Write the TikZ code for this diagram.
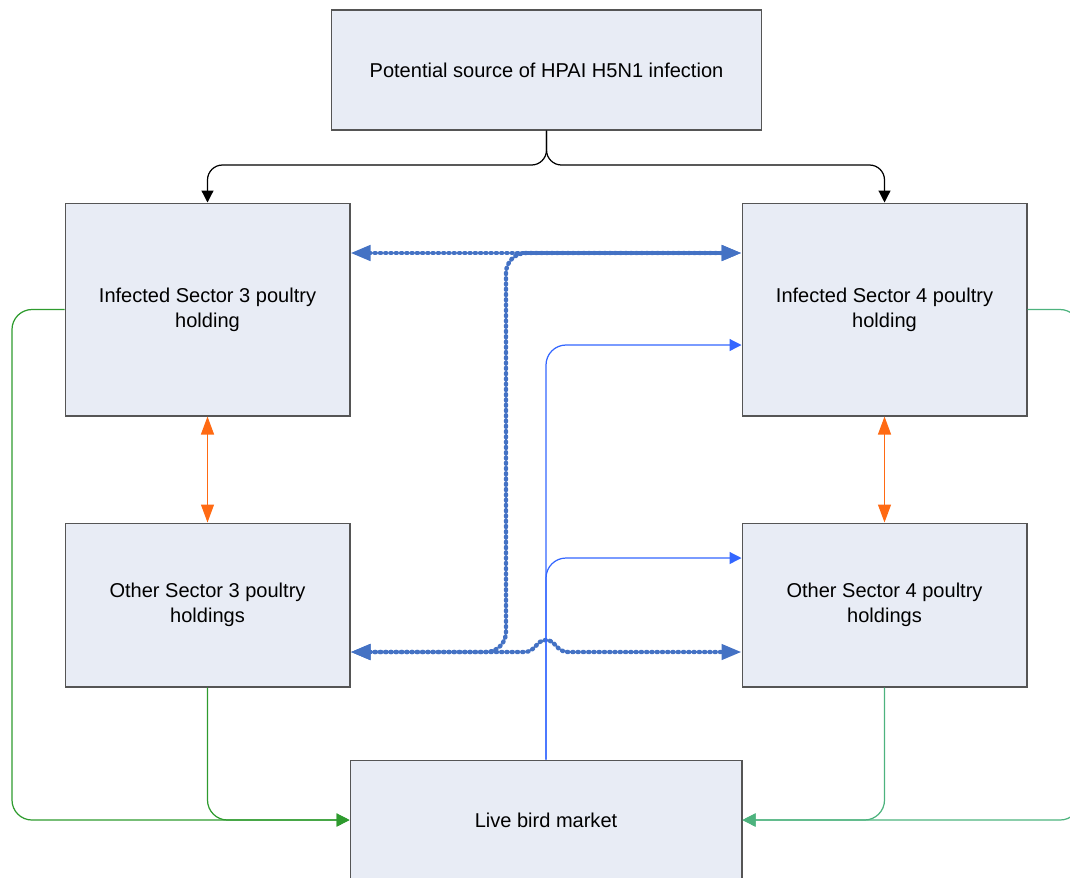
\documentclass[tikz,border=0pt]{standalone}
\usepackage{fontspec}
\setmainfont{Liberation Sans}
\usetikzlibrary{arrows.meta,calc}
\definecolor{boxfill}{HTML}{E8ECF5}
\definecolor{boxline}{HTML}{555555}
\definecolor{dotblue}{HTML}{4472C4}
\definecolor{lineblue}{HTML}{3366FF}
\definecolor{fireorange}{HTML}{FF6A13}
\definecolor{leftgreen}{HTML}{2E9B2E}
\definecolor{rightgreen}{HTML}{4DB37E}
\tikzset{
  box/.style={draw=boxline, fill=boxfill, line width=0.6pt, align=center, inner sep=0pt,
    font=\fontsize{11.4}{14.2}\selectfont},
  bigbox/.style={box, minimum width=5.7cm, minimum height=4.26cm},
  smallbox/.style={box, minimum width=5.7cm, minimum height=3.28cm},
  beads/.style={dotblue, line width=2.5pt, line cap=round, dash pattern=on 0.6pt off 2.4pt,
    {Triangle[length=0.4cm,width=0.3cm]}-{Triangle[length=0.4cm,width=0.3cm]}},
}
\begin{document}
\begin{tikzpicture}[x=0.02cm, y=-0.02cm]
		\useasboundingbox (0,0) rectangle (1070,877);

		% boxes
		\node[box, minimum width=8.62cm, minimum height=2.4cm] (source) at (546.5,70) {Potential source of HPAI H5N1 infection};
		\node[bigbox] (inf3) at (207.5,309.5) {Infected Sector 3 poultry\\holding};
		\node[bigbox] (inf4) at (884.5,309.5) {Infected Sector 4 poultry\\holding};
		\node[smallbox] (oth3) at (207.5,605) {Other Sector 3 poultry\\holdings};
		\node[smallbox] (oth4) at (884.5,605) {Other Sector 4 poultry\\holdings};
		\node[box, minimum width=7.84cm, minimum height=2.4cm] (market) at (546,820) {Live bird market};

		% source of infection
		\draw[black, line width=0.7pt, rounded corners=0.3cm, -{Triangle[length=0.24cm,width=0.24cm]}]
			(source.south) -- (546.5,165) -| (inf3.north);
		\draw[black, line width=0.7pt, rounded corners=0.3cm, -{Triangle[length=0.24cm,width=0.24cm]}]
			(source.south) -- (546.5,165) -| (inf4.north);

		% within sector
		\draw[fireorange, line width=0.7pt, {Triangle[length=0.36cm,width=0.26cm]}-{Triangle[length=0.36cm,width=0.26cm]}] (inf3.south) -- (oth3.north);
		\draw[fireorange, line width=0.7pt, {Triangle[length=0.36cm,width=0.26cm]}-{Triangle[length=0.36cm,width=0.26cm]}] (inf4.south) -- (oth4.north);

		% between sectors
		\draw[beads] ($(inf3.east)+(0,-56.5)$) -- ($(inf4.west)+(0,-56.5)$);
		\draw[beads, rounded corners=0.4cm]
			($(oth3.east)+(0,47)$) -- (506,652) -- (506,253) -- ($(inf4.west)+(0,-56.5)$);
		\draw[beads]
			($(oth3.east)+(0,47)$) -- (524,652) .. controls (536,652) and (536,640) .. (546,640)
			.. controls (556,640) and (556,652) .. (568,652) -- ($(oth4.west)+(0,47)$);

		% market to sector 4
		\draw[lineblue, line width=0.7pt, rounded corners=0.4cm, -{Triangle[length=0.24cm,width=0.24cm]}]
			(market.north) |- ($(inf4.west)+(0,35.5)$);
		\draw[lineblue, line width=0.7pt, rounded corners=0.4cm, -{Triangle[length=0.24cm,width=0.24cm]}]
			(market.north) |- ($(oth4.west)+(0,-47)$);

		% holdings to market
		\draw[leftgreen, line width=0.7pt, rounded corners=0.4cm, -{Triangle[length=0.26cm,width=0.26cm]}]
			(inf3.west) -- (12,309.5) -- (12,820) -- (market.west);
		\draw[leftgreen, line width=0.7pt, rounded corners=0.4cm, -{Triangle[length=0.26cm,width=0.26cm]}]
			(oth3.south) |- (market.west);
		\draw[rightgreen, line width=0.7pt, rounded corners=0.4cm, -{Triangle[length=0.26cm,width=0.26cm]}]
			(inf4.east) -- (1080,309.5) -- (1080,820) -- (market.east);
		\draw[rightgreen, line width=0.7pt, rounded corners=0.4cm, -{Triangle[length=0.26cm,width=0.26cm]}]
			(oth4.south) |- (market.east);

		\end{tikzpicture}
\end{document}
